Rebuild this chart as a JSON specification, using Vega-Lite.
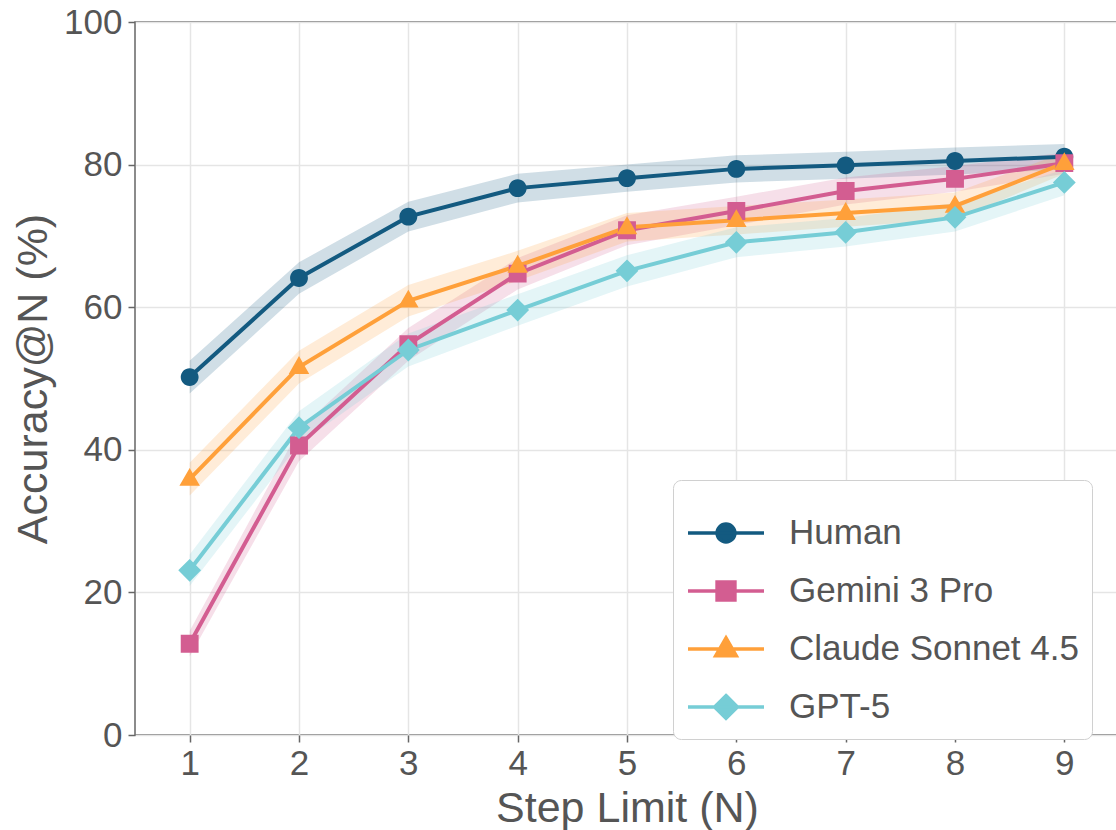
{
  "$schema": "https://vega.github.io/schema/vega-lite/v6.json",
  "autosize": {"type": "none"},
  "padding": {"left": 135, "top": 22, "right": 0, "bottom": 95},
  "width": 984,
  "height": 713,
  "background": "white",
  "config": {
    "font": "Liberation Sans",
    "view": {"stroke": "#666666", "strokeWidth": 1.5},
    "axis": {
      "domain": false,
      "grid": true,
      "gridColor": "#e5e5e5",
      "gridWidth": 1.5,
      "tickColor": "#666666",
      "tickWidth": 1.5,
      "tickSize": 7,
      "labelFontSize": 35,
      "labelColor": "#555555",
      "titleFontSize": 43,
      "titleFontWeight": "normal",
      "titleColor": "#555555"
    },
    "legend": {
      "orient": "none", "legendX": 538, "legendY": 458, "title": null,
      "labelFontSize": 35, "labelColor": "#555555", "labelLimit": 500, "padding": 13,
      "strokeColor": "#d0d0d0", "fillColor": "white", "cornerRadius": 8,
      "symbolSize": 5776, "labelOffset": 23, "rowPadding": -7,
      "symbolOpacity": 1, "symbolStrokeWidth": 3.5
    }
  },
  "data": {
    "values": [
      {"model": "Human", "n": 1, "acc": 50.2, "lo": 47.9, "hi": 52.5},
      {"model": "Human", "n": 2, "acc": 64.1, "lo": 61.9, "hi": 66.3},
      {"model": "Human", "n": 3, "acc": 72.7, "lo": 70.6, "hi": 74.8},
      {"model": "Human", "n": 4, "acc": 76.7, "lo": 74.7, "hi": 78.7},
      {"model": "Human", "n": 5, "acc": 78.1, "lo": 76.2, "hi": 80.0},
      {"model": "Human", "n": 6, "acc": 79.4, "lo": 77.5, "hi": 81.3},
      {"model": "Human", "n": 7, "acc": 79.9, "lo": 78.0, "hi": 81.8},
      {"model": "Human", "n": 8, "acc": 80.5, "lo": 78.6, "hi": 82.4},
      {"model": "Human", "n": 9, "acc": 81.1, "lo": 79.3, "hi": 82.9},
      {"model": "Gemini 3 Pro", "n": 1, "acc": 12.8, "lo": 11.0, "hi": 14.6},
      {"model": "Gemini 3 Pro", "n": 2, "acc": 40.6, "lo": 38.4, "hi": 42.8},
      {"model": "Gemini 3 Pro", "n": 3, "acc": 54.8, "lo": 52.5, "hi": 57.1},
      {"model": "Gemini 3 Pro", "n": 4, "acc": 64.7, "lo": 62.5, "hi": 66.9},
      {"model": "Gemini 3 Pro", "n": 5, "acc": 70.8, "lo": 68.7, "hi": 72.9},
      {"model": "Gemini 3 Pro", "n": 6, "acc": 73.5, "lo": 71.5, "hi": 75.5},
      {"model": "Gemini 3 Pro", "n": 7, "acc": 76.3, "lo": 74.4, "hi": 78.2},
      {"model": "Gemini 3 Pro", "n": 8, "acc": 78.0, "lo": 76.2, "hi": 79.8},
      {"model": "Gemini 3 Pro", "n": 9, "acc": 80.2, "lo": 78.7, "hi": 81.7},
      {"model": "Claude Sonnet 4.5", "n": 1, "acc": 35.9, "lo": 33.6, "hi": 38.2},
      {"model": "Claude Sonnet 4.5", "n": 2, "acc": 51.6, "lo": 49.3, "hi": 53.9},
      {"model": "Claude Sonnet 4.5", "n": 3, "acc": 60.9, "lo": 58.7, "hi": 63.1},
      {"model": "Claude Sonnet 4.5", "n": 4, "acc": 65.8, "lo": 63.7, "hi": 67.9},
      {"model": "Claude Sonnet 4.5", "n": 5, "acc": 71.2, "lo": 69.2, "hi": 73.2},
      {"model": "Claude Sonnet 4.5", "n": 6, "acc": 72.2, "lo": 70.2, "hi": 74.2},
      {"model": "Claude Sonnet 4.5", "n": 7, "acc": 73.2, "lo": 71.3, "hi": 75.1},
      {"model": "Claude Sonnet 4.5", "n": 8, "acc": 74.2, "lo": 72.3, "hi": 76.1},
      {"model": "Claude Sonnet 4.5", "n": 9, "acc": 80.2, "lo": 78.7, "hi": 81.7},
      {"model": "GPT-5", "n": 1, "acc": 23.1, "lo": 20.9, "hi": 25.3},
      {"model": "GPT-5", "n": 2, "acc": 43.1, "lo": 40.8, "hi": 45.4},
      {"model": "GPT-5", "n": 3, "acc": 54.0, "lo": 51.7, "hi": 56.3},
      {"model": "GPT-5", "n": 4, "acc": 59.6, "lo": 57.4, "hi": 61.8},
      {"model": "GPT-5", "n": 5, "acc": 65.1, "lo": 62.9, "hi": 67.3},
      {"model": "GPT-5", "n": 6, "acc": 69.1, "lo": 67.0, "hi": 71.2},
      {"model": "GPT-5", "n": 7, "acc": 70.5, "lo": 68.5, "hi": 72.5},
      {"model": "GPT-5", "n": 8, "acc": 72.6, "lo": 70.6, "hi": 74.6},
      {"model": "GPT-5", "n": 9, "acc": 77.5, "lo": 75.7, "hi": 79.3}
    ]
  },
  "encoding": {
    "x": {
      "field": "n", "type": "quantitative",
      "scale": {"domain": [0.5, 9.5], "nice": false, "zero": false},
      "axis": {"values": [1, 2, 3, 4, 5, 6, 7, 8, 9], "format": "d", "labelPadding": 4, "title": "Step Limit (N)", "titlePadding": 6}
    }
  },
  "layer": [
    {
      "mark": {"type": "area", "opacity": 0.2},
      "encoding": {
        "y": {
          "field": "lo", "type": "quantitative",
          "scale": {"domain": [0, 100], "nice": false},
          "axis": {"values": [0, 20, 40, 60, 80, 100], "labelPadding": 6, "title": "Accuracy@N (%)", "titlePadding": 8}
        },
        "y2": {"field": "hi"},
        "color": {
          "field": "model", "type": "nominal",
          "scale": {"domain": ["Human", "Gemini 3 Pro", "Claude Sonnet 4.5", "GPT-5"], "range": ["#135a80", "#d35d91", "#ffa03a", "#76cdd6"]}
        }
      }
    },
    {
      "mark": {"type": "line", "strokeWidth": 4},
      "encoding": {
        "y": {"field": "acc", "type": "quantitative"},
        "color": {"field": "model", "type": "nominal"}
      }
    },
    {
      "mark": {"type": "point", "filled": true, "opacity": 1, "size": 5776, "strokeWidth": 0},
      "encoding": {
        "y": {"field": "acc", "type": "quantitative"},
        "color": {"field": "model", "type": "nominal"},
        "stroke": {
          "field": "model", "type": "nominal",
          "scale": {"domain": ["Human", "Gemini 3 Pro", "Claude Sonnet 4.5", "GPT-5"], "range": ["#135a80", "#d35d91", "#ffa03a", "#76cdd6"]}
        },
        "shape": {
          "field": "model", "type": "nominal",
          "scale": {
            "domain": ["Human", "Gemini 3 Pro", "Claude Sonnet 4.5", "GPT-5"],
            "range": [
              "M-1,0 L1,0 M-0.235,0 A0.235,0.235 0 1,1 0.235,0 A0.235,0.235 0 1,1 -0.235,0 Z",
              "M-1,0 L1,0 M-0.235,-0.235 L0.235,-0.235 L0.235,0.235 L-0.235,0.235 Z",
              "M-1,0 L1,0 M0,-0.29 L0.27,0.18 L-0.27,0.18 Z",
              "M-1,0 L1,0 M0,-0.3 L0.3,0 L0,0.3 L-0.3,0 Z"
            ]
          }
        }
      }
    }
  ]
}
